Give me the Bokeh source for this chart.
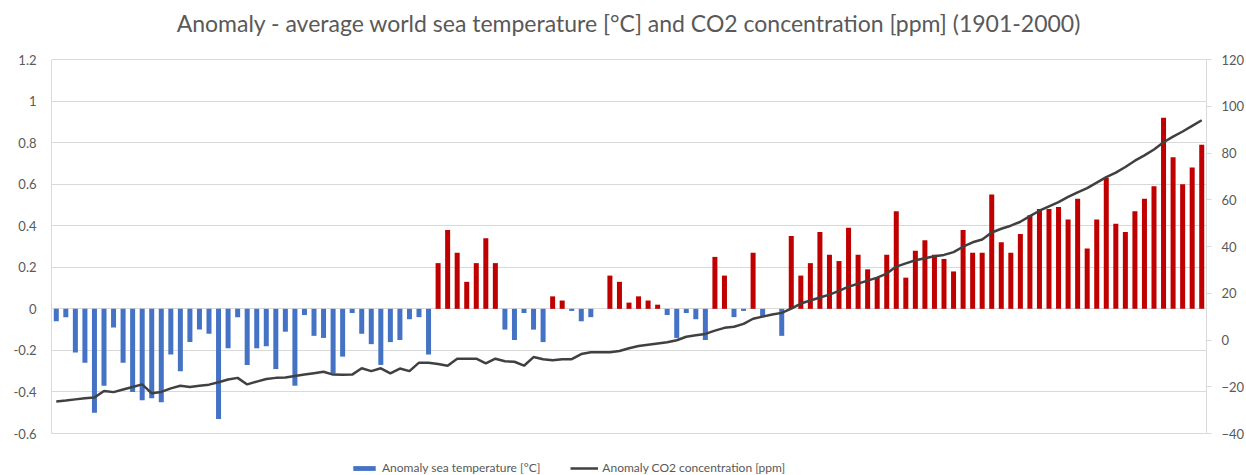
from bokeh.plotting import figure
from bokeh.models import (Range1d, LinearAxis, FixedTicker, CustomJSTickFormatter,
                          Legend, LegendItem, ColumnDataSource)
from bokeh.embed import file_html
from bokeh.resources import INLINE

title = "Anomaly - average world sea temperature [°C] and CO2 concentration [ppm] (1901-2000)"
years = list(range(1880, 2001))

temp_anomaly = [
    -0.06, -0.04, -0.21, -0.26, -0.50, -0.37, -0.09, -0.26, -0.40, -0.44,
    -0.43, -0.45, -0.22, -0.30, -0.16, -0.10, -0.12, -0.53, -0.19, -0.04,
    -0.27, -0.19, -0.18, -0.29, -0.11, -0.37, -0.03, -0.13, -0.14, -0.31,
    -0.23, -0.02, -0.12, -0.17, -0.27, -0.16, -0.15, -0.05, -0.04, -0.22,
    0.22, 0.38, 0.27, 0.13, 0.22, 0.34, 0.22, -0.10, -0.15, -0.02,
    -0.10, -0.16, 0.06, 0.04, -0.01, -0.06, -0.04, 0.00, 0.16, 0.13,
    0.03, 0.06, 0.04, 0.02, -0.03, -0.14, -0.02, -0.05, -0.15, 0.25,
    0.16, -0.04, -0.01, 0.27, -0.04, 0.00, -0.13, 0.35, 0.16, 0.22,
    0.37, 0.26, 0.23, 0.39, 0.26, 0.19, 0.15, 0.26, 0.47, 0.15,
    0.28, 0.33, 0.26, 0.24, 0.18, 0.38, 0.27, 0.27, 0.55, 0.32,
    0.27, 0.36, 0.45, 0.48, 0.48, 0.49, 0.43, 0.53, 0.29, 0.43,
    0.63, 0.41, 0.37, 0.47, 0.53, 0.59, 0.92, 0.73, 0.60, 0.68,
    0.79,
]

co2_anomaly = [
    -26.3, -25.9, -25.4, -24.9, -24.6, -21.8, -22.3, -21.2, -20.1, -19.0,
    -22.8, -22.2, -20.7, -19.6, -20.1, -19.6, -19.1, -18.1, -16.9, -16.2,
    -19.0, -17.8, -16.7, -16.2, -16.0, -15.4, -14.8, -14.2, -13.6, -14.8,
    -14.9, -14.8, -12.1, -13.3, -12.1, -14.3, -12.2, -13.3, -9.7, -9.7,
    -10.3, -11.0, -8.0, -8.0, -8.0, -10.0, -8.0, -9.1, -9.3, -11.0,
    -7.3, -8.2, -8.7, -8.2, -8.2, -6.0, -5.2, -5.2, -5.2, -4.7,
    -3.5, -2.6, -2.0, -1.5, -1.0, -0.1, 1.4, 2.0, 2.6, 4.0,
    5.2, 5.7, 6.9, 9.1, 10.0, 10.9, 11.6, 13.4, 15.6, 16.9,
    18.2, 19.4, 21.0, 22.8, 24.1, 25.4, 26.7, 28.4, 31.4, 32.8,
    34.1, 35.0, 35.8, 36.4, 37.6, 39.9, 41.8, 43.0, 46.0, 47.6,
    48.9, 50.6, 53.0, 55.3, 57.2, 59.0, 61.2, 63.2, 65.0, 67.3,
    69.7, 71.6, 74.0, 76.7, 79.0, 81.5, 84.6, 87.0, 89.2, 91.6,
    94.0,
]

left_ticks = [-0.6, -0.4, -0.2, 0, 0.2, 0.4, 0.6, 0.8, 1.0, 1.2]
right_ticks = [-40, -20, 0, 20, 40, 60, 80, 100, 120]

BLUE = "#4472C4"
RED = "#C00000"
LINE = "#404040"
TXT = "#595959"
GRID = "#D9D9D9"
FONT = "Lato"

# chart area 1155 x 374 px; the frame also holds 14 px of headroom and a
# 42 px strip below for the legend
PLOT_H = 374
HEAD = 14
FOOT = 42
T_MIN, T_MAX = left_ticks[0], left_ticks[-1]
C_MIN, C_MAX = right_ticks[0], right_ticks[-1]
t_px = (T_MAX - T_MIN) / PLOT_H
c_px = (C_MAX - C_MIN) / PLOT_H

colors = [BLUE if v < 0 else RED for v in temp_anomaly]
src = ColumnDataSource(dict(year=years, temp=temp_anomaly, color=colors))
src_line = ColumnDataSource(dict(year=years, co2=co2_anomaly))

p = figure(frame_width=1155, frame_height=PLOT_H + HEAD + FOOT,
           min_border_left=51, min_border_right=40,
           min_border_top=45, min_border_bottom=0,
           x_range=Range1d(years[0] - 0.5, years[-1] + 0.5),
           y_range=Range1d(T_MIN - FOOT * t_px, T_MAX + HEAD * t_px),
           x_axis_location=None, y_axis_location=None,
           output_backend="svg", toolbar_location=None, tools="")
p.extra_y_ranges = {"co2": Range1d(C_MIN - FOOT * c_px, C_MAX + HEAD * c_px)}

p.title.text = title
p.title.align = "center"
p.title.vertical_align = "top"
p.title.text_font = FONT
p.title.text_font_size = "23px"
p.title.text_font_style = "normal"
p.title.text_color = TXT
p.title.standoff = 13

p.outline_line_color = None
p.background_fill_color = "white"
p.border_fill_color = "white"

# left axis
left = LinearAxis(ticker=FixedTicker(ticks=left_ticks), bounds=(T_MIN, T_MAX),
                  formatter=CustomJSTickFormatter(code="return String(Number(tick.toFixed(1)));"))
left.axis_line_color = GRID
left.major_tick_out = 0
left.major_tick_in = 0
left.minor_tick_out = 0
left.minor_tick_in = 0
left.major_label_standoff = 15
left.major_label_text_font = FONT
left.major_label_text_font_size = "13px"
left.major_label_text_color = TXT
p.add_layout(left, "left")

right = LinearAxis(y_range_name="co2", ticker=FixedTicker(ticks=right_ticks), bounds=(C_MIN, C_MAX))
right.axis_line_color = GRID
right.major_tick_line_color = GRID
right.major_tick_out = 5
right.major_tick_in = 0
right.minor_tick_out = 0
right.minor_tick_in = 0
right.major_label_standoff = 10
right.major_label_text_font = FONT
right.major_label_text_font_size = "13px"
right.major_label_text_color = TXT
p.add_layout(right, "right")

p.xgrid.visible = False
p.ygrid.ticker = FixedTicker(ticks=left_ticks)
p.ygrid.grid_line_color = GRID
p.ygrid.grid_line_width = 1

bars = p.vbar(x="year", top="temp", bottom=0, width=0.525, fill_color="color",
              line_color=None, source=src)
line = p.line(x="year", y="co2", y_range_name="co2", line_color=LINE, line_width=2.5,
              source=src_line)

legend = Legend(items=[
    LegendItem(label="Anomaly sea temperature [°C]", renderers=[bars], index=0),
    LegendItem(label="Anomaly CO2 concentration [ppm]", renderers=[line]),
], orientation="horizontal", location=(299, 0))
legend.border_line_color = None
legend.background_fill_alpha = 0
legend.label_text_font = FONT
legend.label_text_font_size = "12px"
legend.label_text_color = TXT
legend.glyph_width = 28
legend.glyph_height = 6
legend.label_standoff = 4
legend.spacing = 30
legend.padding = 0
legend.margin = 0
p.add_layout(legend, "center")

open("out.html", "w").write(file_html(p, INLINE))
